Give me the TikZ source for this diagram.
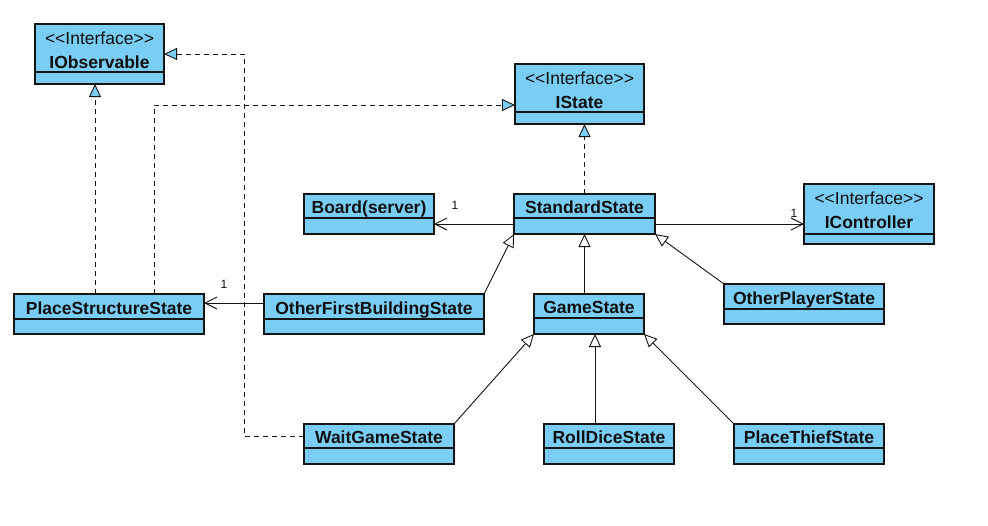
\documentclass[tikz,border=0pt]{standalone}
\usepackage{fontspec}
\setmainfont{Liberation Sans}
\usetikzlibrary{arrows.meta}
\definecolor{umlblue}{RGB}{122,206,245}
\definecolor{umlline}{RGB}{20,20,20}
\definecolor{umltext}{RGB}{15,15,15}
\newcommand\umlclass[7]{%
  \node[classbox, minimum width={#4-#2}, minimum height={#5-#3}, anchor=north west] (#1) at (#2,#3) {};
  \draw[sepline] (#2,#6) -- (#4,#6);
  \node[nametext, anchor=base] (#1-name) at ({(#2+#4)/2},{#6-5}) {#7};
}
\newcommand\umliface[7]{%
  \node[classbox, minimum width={#4-#2}, minimum height={#5-#3}, anchor=north west] (#1) at (#2,#3) {};
  \draw[sepline] (#2,#6) -- (#4,#6);
  \node[stereo, anchor=base] (#1-st) at ({(#2+#4)/2},{#3+20}) {<\kern0pt<Interface>\kern0pt>};
  \node[nametext, anchor=base] (#1-name) at ({(#2+#4)/2},{#3+44}) {#7};
}
\begin{document}
\begin{tikzpicture}[x=1pt,y=-1pt,
  classbox/.style={draw=umlline, fill=umlblue, line width=1.2pt, inner sep=0pt, outer sep=0pt, rectangle},
  sepline/.style={draw=umlline, line width=1.2pt},
  nametext/.style={font=\fontsize{17.5}{20}\selectfont\bfseries, text=umltext, inner sep=0pt},
  stereo/.style={font=\fontsize{17.5}{20}\selectfont, text=umltext, inner sep=0pt},
  mult/.style={font=\fontsize{12}{14}\selectfont, text=umltext, inner sep=0pt},
  conn/.style={draw=umlline, line width=0.9pt},
  real/.style={conn, dash pattern=on 5pt off 4pt, -{Triangle[length=13pt,width=12pt,fill=umlblue]}},
  gen/.style={conn, -{Triangle[length=13pt,width=12pt,fill=white]}},
  assoc/.style={conn, -{Straight Barb[length=12pt,width=12pt]}}
]
\fill[white] (0,0) rectangle (988,525);
\useasboundingbox (0,0) rectangle (988,525);

\umliface{obs}{35}{24}{164}{84}{72}{IObservable}
\umliface{istate}{515}{64}{644}{124}{112}{IState}
\umliface{ictrl}{804}{184}{934}{244}{234}{IController}
\umlclass{board}{304}{194}{434}{234}{218}{Board(server)}
\umlclass{std}{514}{194}{655}{234}{218}{StandardState}
\umlclass{pss}{14}{294}{204}{334}{319}{PlaceStructureState}
\umlclass{ofbs}{264}{294}{484}{334}{319}{OtherFirstBuildingState}
\umlclass{game}{534}{294}{644}{334}{318}{GameState}
\umlclass{opl}{724}{284}{884}{324}{309}{OtherPlayerState}
\umlclass{wait}{304}{424}{454}{464}{448}{WaitGameState}
\umlclass{roll}{544}{424}{674}{464}{448}{RollDiceState}
\umlclass{thief}{734}{424}{884}{464}{448}{PlaceThiefState}

% realizations
\draw[real] ([xshift=-14pt]pss.north) -- ([xshift=-14pt]pss.north |- obs.south);
\draw[real] ([xshift=45pt]pss.north) |- ([yshift=-11pt]istate.west);
\draw[real] ([yshift=8pt]wait.west) -- ++(-60,0) |- (obs.east);
\draw[real] (std.north) -- (std.north |- istate.south);

% generalizations
\draw[gen] (ofbs.north east) -- (std.south west);
\draw[gen] (std.south |- game.north) -- (std.south);
\draw[gen] (opl.north west) -- (std.south east);
\draw[gen] (wait.north east) -- (game.south west);
\draw[gen] ([xshift=-14pt]roll.north) -- ([xshift=-14pt]roll.north |- game.south);
\draw[gen] (thief.north west) -- (game.south east);

% associations
\draw[assoc] ([yshift=-10pt]std.west) -- ([yshift=-10pt]board.east);
\draw[assoc] ([yshift=-10pt]std.east) -- ([yshift=-10pt]ictrl.west);
\draw[assoc] ([yshift=11pt]ofbs.west) -- ([yshift=11pt]pss.east);
\node[mult] (m1) at ([xshift=21pt,yshift=9pt]board.east) {1};
\node[mult] (m2) at ([xshift=-10pt,yshift=1pt]ictrl.west) {1};
\node[mult] (m3) at ([xshift=20pt,yshift=30pt]pss.east) {1};
\end{tikzpicture}
\end{document}
